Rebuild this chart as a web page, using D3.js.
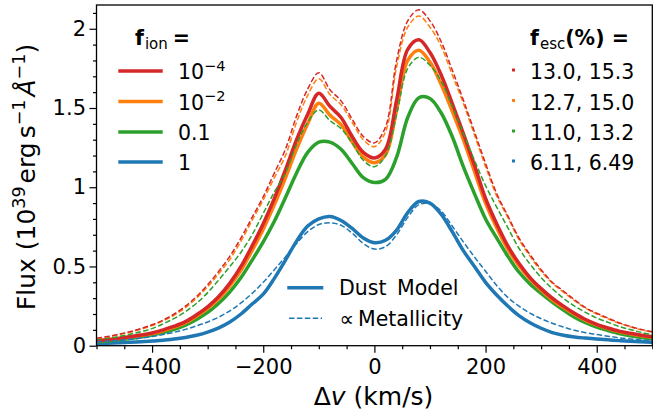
<!DOCTYPE html>
<html><head><meta charset="utf-8">
<script src="https://cdn.jsdelivr.net/npm/d3@7"></script>
<style>
html,body{margin:0;padding:0;background:#fff;}
svg{display:block;font-family:"DejaVu Sans",sans-serif;}
</style></head>
<body><svg id="c" width="653" height="416"></svg>
<script>
// velocity grid (km/s)
const velocity = d3.range(-500, 501, 20);
// Dust model (solid) for f_ion = 1e-4, 1e-2, 0.1, 1
const dust_1e4 = [0.032,0.038,0.046,0.056,0.067,0.08,0.10,0.123,0.152,0.195,0.245,0.31,0.395,0.50,0.63,0.77,0.93,1.11,1.30,1.46,1.593,1.51,1.44,1.32,1.22,1.185,1.24,1.55,1.87,1.93,1.85,1.71,1.53,1.34,1.14,0.93,0.77,0.63,0.52,0.43,0.36,0.30,0.25,0.205,0.165,0.135,0.112,0.092,0.078,0.066,0.057];
const dust_1e2 = [0.031,0.037,0.045,0.054,0.064,0.076,0.095,0.117,0.145,0.186,0.235,0.297,0.378,0.475,0.60,0.735,0.89,1.06,1.24,1.40,1.53,1.455,1.395,1.285,1.19,1.155,1.205,1.49,1.80,1.865,1.79,1.65,1.48,1.30,1.10,0.90,0.745,0.61,0.505,0.42,0.35,0.29,0.242,0.198,0.16,0.131,0.108,0.089,0.075,0.063,0.055];
const dust_01 = [0.025,0.030,0.037,0.045,0.055,0.067,0.083,0.103,0.13,0.166,0.21,0.268,0.34,0.43,0.54,0.655,0.785,0.935,1.09,1.22,1.285,1.285,1.24,1.15,1.06,1.03,1.05,1.19,1.44,1.565,1.56,1.47,1.32,1.13,0.96,0.80,0.68,0.565,0.465,0.39,0.33,0.275,0.225,0.18,0.145,0.117,0.096,0.077,0.063,0.052,0.043];
const dust_1 = [0.013,0.015,0.018,0.021,0.025,0.029,0.035,0.042,0.052,0.066,0.086,0.113,0.15,0.20,0.263,0.325,0.425,0.54,0.66,0.755,0.80,0.815,0.79,0.74,0.68,0.65,0.665,0.73,0.84,0.91,0.90,0.83,0.72,0.60,0.50,0.40,0.32,0.25,0.19,0.145,0.11,0.083,0.066,0.055,0.048,0.042,0.037,0.032,0.028,0.025,0.022];
// Dust proportional to metallicity (dashed)
const metal_1e4 = [0.047,0.058,0.072,0.088,0.108,0.132,0.162,0.20,0.25,0.31,0.385,0.47,0.565,0.68,0.81,0.94,1.09,1.24,1.45,1.62,1.723,1.615,1.545,1.43,1.32,1.28,1.38,1.80,2.05,2.12,2.05,1.92,1.74,1.55,1.35,1.15,0.96,0.82,0.68,0.575,0.48,0.40,0.345,0.29,0.24,0.205,0.175,0.145,0.122,0.103,0.088];
const metal_1e2 = [0.045,0.056,0.069,0.085,0.104,0.127,0.156,0.193,0.24,0.30,0.372,0.455,0.545,0.66,0.79,0.92,1.06,1.20,1.41,1.58,1.685,1.585,1.52,1.41,1.30,1.256,1.35,1.76,2.01,2.08,2.01,1.89,1.71,1.53,1.33,1.13,0.945,0.81,0.67,0.565,0.47,0.395,0.338,0.284,0.236,0.2,0.17,0.142,0.119,0.1,0.085];
const metal_01 = [0.04,0.048,0.058,0.072,0.088,0.108,0.138,0.172,0.215,0.268,0.335,0.415,0.50,0.59,0.70,0.835,0.97,1.09,1.27,1.41,1.488,1.42,1.37,1.28,1.17,1.13,1.20,1.46,1.75,1.82,1.77,1.67,1.51,1.34,1.17,1.01,0.875,0.745,0.615,0.515,0.43,0.36,0.30,0.25,0.21,0.175,0.148,0.122,0.102,0.084,0.068];
const metal_1 = [0.025,0.029,0.034,0.040,0.048,0.058,0.07,0.085,0.103,0.125,0.15,0.18,0.22,0.27,0.33,0.40,0.48,0.56,0.645,0.72,0.765,0.775,0.76,0.71,0.645,0.61,0.625,0.70,0.81,0.89,0.895,0.85,0.755,0.655,0.56,0.47,0.38,0.305,0.25,0.205,0.17,0.142,0.118,0.097,0.082,0.07,0.06,0.05,0.042,0.036,0.032];

const fionBase = ["10","10","0.1","1"];
const fionExp = ["\u22124","\u22122","",""];
const fescLabels = ["13.0, 15.3","12.7, 15.0","11.0, 13.2","6.11, 6.49"];
const colors = ["#d62728","#ff7f0e","#2ca02c","#1f77b4"];
const dustSeries = [dust_1e4, dust_1e2, dust_01, dust_1];
const metalSeries = [metal_1e4, metal_1e2, metal_01, metal_1];
const xTicks = [-400,-200,0,200,400];
const yTicks = [0,0.5,1,1.5,2];

const svg = d3.select("#c");
const L=96.5, R=652.3, T=5, B=345.7;
const x = d3.scaleLinear().domain([-500,500]).range([L,R]);
const y = d3.scaleLinear().domain([0,2.15]).range([B,T]);

svg.append("defs").append("clipPath").attr("id","clip")
  .append("rect").attr("x",L).attr("y",T).attr("width",R-L).attr("height",B-T);

const line = d3.line().x((d,i)=>x(velocity[i])).y(d=>y(d)).curve(d3.curveCatmullRom.alpha(0.5));
const g = svg.append("g").attr("clip-path","url(#clip)");
for (let k=3;k>=0;k--){
  g.append("path").attr("d",line(dustSeries[k])).attr("fill","none")
   .attr("stroke",colors[k]).attr("stroke-width",3.5).attr("stroke-linejoin","round");
}
for (let k=3;k>=0;k--){
  g.append("path").attr("d",line(metalSeries[k])).attr("fill","none")
   .attr("stroke",colors[k]).attr("stroke-width",1.5).attr("stroke-dasharray","5.5,2.4");
}

// axes
const fmt = d => d3.format("~g")(d).replace("-","\u2212");
const xMinor = d3.range(-500,501,50).filter(v=>!xTicks.includes(v));
const yMinor = d3.range(0,22).map(i=>+(i*0.1).toFixed(1)).filter(v=>!yTicks.includes(v));
svg.append("g").attr("transform",`translate(0,${B})`)
  .call(d3.axisBottom(x).tickValues(xTicks).tickSize(7).tickPadding(6.5).tickFormat(fmt));
svg.append("g").attr("transform",`translate(0,${B})`)
  .call(d3.axisBottom(x).tickValues(xMinor).tickSize(3.5).tickFormat(""));
svg.append("g").attr("transform",`translate(${L},0)`)
  .call(d3.axisLeft(y).tickValues(yTicks).tickSize(7).tickPadding(3.5).tickFormat(fmt));
svg.append("g").attr("transform",`translate(${L},0)`)
  .call(d3.axisLeft(y).tickValues(yMinor).tickSize(3.5).tickFormat(""));
svg.selectAll(".domain").remove();
svg.selectAll(".tick line").attr("stroke","#000").attr("stroke-width",1.2);
svg.selectAll(".tick text").attr("font-size",21).attr("fill","#000").attr("font-family","DejaVu Sans");
svg.append("rect").attr("x",L).attr("y",T).attr("width",R-L).attr("height",B-T)
  .attr("fill","none").attr("stroke","#000").attr("stroke-width",1.3);

// axis labels
const xl = svg.append("text").attr("x",373.5).attr("y",405).attr("text-anchor","middle").attr("font-size",25);
xl.append("tspan").text("\u0394");
xl.append("tspan").attr("font-style","italic").text("v");
xl.append("tspan").attr("dx",8).text("(km/s)");

const yl = svg.append("text").attr("transform","translate(35,177) rotate(-90)").attr("text-anchor","middle").attr("font-size",25);
yl.append("tspan").text("Flux (10");
yl.append("tspan").attr("font-size",17.5).attr("dy",-10).text("39");
yl.append("tspan").attr("dy",10).attr("dx",3).text("erg");
yl.append("tspan").attr("dx",4).text("s");
yl.append("tspan").attr("font-size",17.5).attr("dy",-10).text("\u22121");
yl.append("tspan").attr("dy",10).attr("dx",3).attr("font-style","italic").text("\u00C5");
yl.append("tspan").attr("font-size",17.5).attr("dy",-10).text("\u22121");
yl.append("tspan").attr("dy",10).text(")");

// left legend
const rowY = [71,101.5,132,162];
const t1 = svg.append("text").attr("x",135).attr("y",45).attr("font-size",20.5);
t1.append("tspan").attr("font-weight","bold").text("f");
t1.append("tspan").attr("font-size",15).attr("dy",3.5).attr("dx",1).text("ion");
t1.append("tspan").attr("font-weight","bold").attr("dy",-3.5).attr("dx",5).text("=");
rowY.forEach((ry,i)=>{
  svg.append("line").attr("x1",118.3).attr("x2",162.7).attr("y1",ry).attr("y2",ry)
    .attr("stroke",colors[i]).attr("stroke-width",3.5);
  const t = svg.append("text").attr("x",178).attr("y",ry+8).attr("font-size",20.5);
  t.append("tspan").text(fionBase[i]);
  if (fionExp[i]) t.append("tspan").attr("font-size",14.5).attr("dy",-8.5).text(fionExp[i]);
});
// right legend
const t2 = svg.append("text").attr("x",530).attr("y",45).attr("font-size",20.5);
t2.append("tspan").attr("font-weight","bold").text("f");
t2.append("tspan").attr("font-size",15).attr("dy",3.5).attr("dx",1).text("esc");
t2.append("tspan").attr("font-weight","bold").attr("dy",-3.5).text("(%) =");
rowY.forEach((ry,i)=>{
  svg.append("line").attr("x1",512).attr("x2",515).attr("y1",ry-1).attr("y2",ry-1)
    .attr("stroke",colors[i]).attr("stroke-width",3);
  svg.append("text").attr("x",530).attr("y",ry+8).attr("font-size",20.5).text(fescLabels[i]);
});
// bottom legend
svg.append("line").attr("x1",287.3).attr("x2",323.3).attr("y1",287.7).attr("y2",287.7)
  .attr("stroke",colors[3]).attr("stroke-width",3.5);
svg.append("line").attr("x1",289).attr("x2",322).attr("y1",318.3).attr("y2",318.3)
  .attr("stroke",colors[3]).attr("stroke-width",1.5).attr("stroke-dasharray","5.5,2.4");
svg.append("text").attr("x",339).attr("y",295).attr("font-size",20.5).attr("word-spacing",4).text("Dust Model");
svg.append("text").attr("x",339.5).attr("y",325.5).attr("font-size",20.5).text("\u221D");
svg.append("text").attr("x",358).attr("y",325.5).attr("font-size",20.5).text("Metallicity");
</script></body></html>
